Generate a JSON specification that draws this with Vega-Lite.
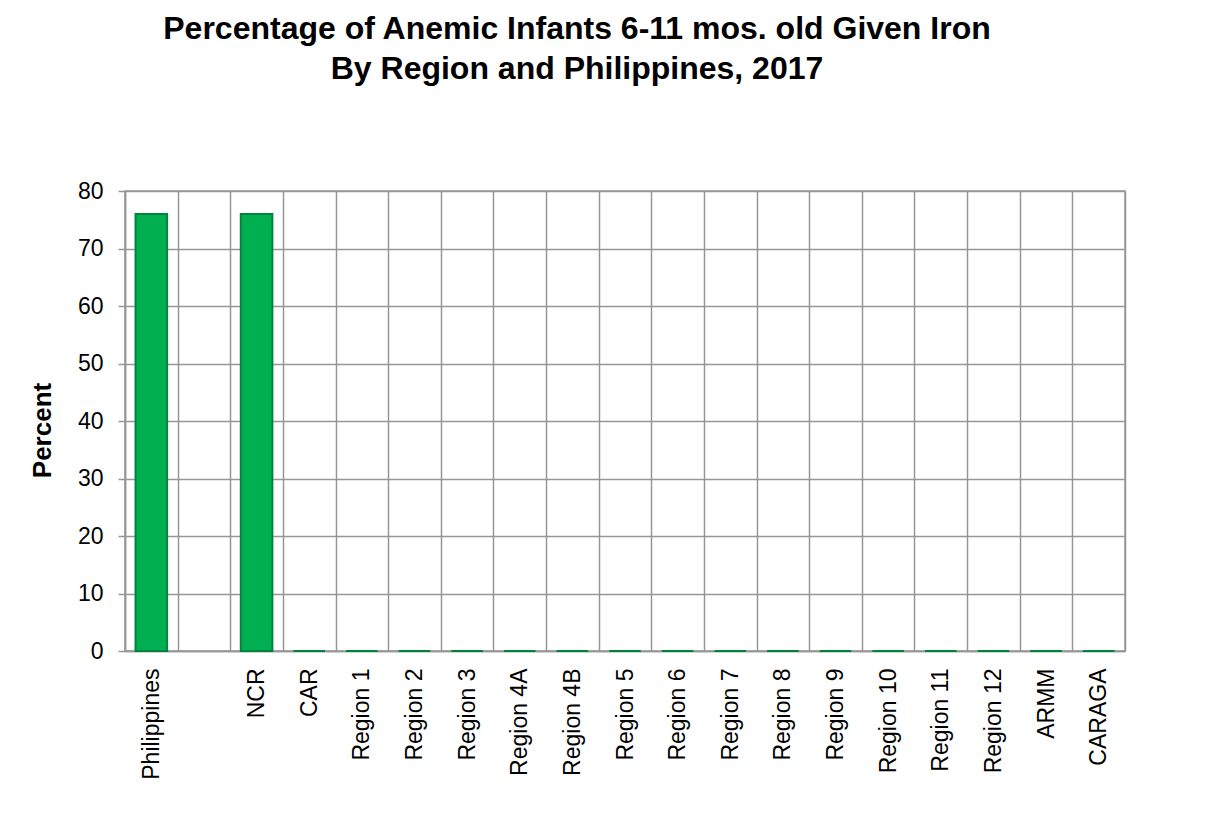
{
  "$schema": "https://vega.github.io/schema/vega-lite/v6.json",
  "autosize": {"type": "none"},
  "width": 1000,
  "height": 460,
  "padding": {"left": 125, "top": 191, "right": 80, "bottom": 179},
  "background": "white",
  "title": {
    "text": ["Percentage of Anemic Infants 6-11 mos. old Given Iron", "By Region and Philippines, 2017"],
    "font": "Liberation Sans",
    "fontSize": 32,
    "fontWeight": "bold",
    "color": "#000000",
    "anchor": "middle",
    "baseline": "alphabetic",
    "dx": -48,
    "offset": 69,
    "lineHeight": 40
  },
  "data": {
    "values": [
      {"region": "Philippines", "percent": 76},
      {"region": " ", "percent": null},
      {"region": "NCR", "percent": 76},
      {"region": "CAR", "percent": 0},
      {"region": "Region 1", "percent": 0},
      {"region": "Region 2", "percent": 0},
      {"region": "Region 3", "percent": 0},
      {"region": "Region 4A", "percent": 0},
      {"region": "Region 4B", "percent": 0},
      {"region": "Region 5", "percent": 0},
      {"region": "Region 6", "percent": 0},
      {"region": "Region 7", "percent": 0},
      {"region": "Region 8", "percent": 0},
      {"region": "Region 9", "percent": 0},
      {"region": "Region 10", "percent": 0},
      {"region": "Region 11", "percent": 0},
      {"region": "Region 12", "percent": 0},
      {"region": "ARMM", "percent": 0},
      {"region": "CARAGA", "percent": 0}
    ]
  },
  "mark": {
    "type": "bar",
    "width": {"band": 0.6},
    "color": "#00B050",
    "stroke": "#00843D",
    "strokeWidth": 2
  },
  "encoding": {
    "x": {
      "field": "region",
      "type": "nominal",
      "sort": null,
      "scale": {
        "domain": ["Philippines", " ", "NCR", "CAR", "Region 1", "Region 2", "Region 3", "Region 4A", "Region 4B", "Region 5", "Region 6", "Region 7", "Region 8", "Region 9", "Region 10", "Region 11", "Region 12", "ARMM", "CARAGA"],
        "paddingInner": 0,
        "paddingOuter": 0
      },
      "axis": {
        "title": null,
        "labelAngle": -90,
        "labelFont": "Liberation Sans",
        "labelFontSize": 23,
        "labelColor": "#000000",
        "labelPadding": 17,
        "ticks": false,
        "tickBand": "extent",
        "grid": true,
        "gridColor": "#969696",
        "gridWidth": 1.5,
        "domainColor": "#969696",
        "domainWidth": 1.5
      }
    },
    "y": {
      "field": "percent",
      "type": "quantitative",
      "scale": {"domain": [0, 80]},
      "axis": {
        "title": "Percent",
        "titleFont": "Liberation Sans",
        "titleFontSize": 26,
        "titleFontWeight": "bold",
        "titleColor": "#000000",
        "titleX": -83,
        "titleY": 239,
        "titleAngle": -90,
        "titleAlign": "center",
        "titleBaseline": "middle",
        "values": [0, 10, 20, 30, 40, 50, 60, 70, 80],
        "labelFont": "Liberation Sans",
        "labelFontSize": 23,
        "labelColor": "#000000",
        "labelPadding": 15,
        "tickSize": 7,
        "tickColor": "#969696",
        "tickWidth": 1.5,
        "grid": true,
        "gridColor": "#969696",
        "gridWidth": 1.5,
        "domainColor": "#969696",
        "domainWidth": 1.5
      }
    }
  },
  "config": {
    "view": {"stroke": "#969696", "strokeWidth": 1.5}
  }
}
